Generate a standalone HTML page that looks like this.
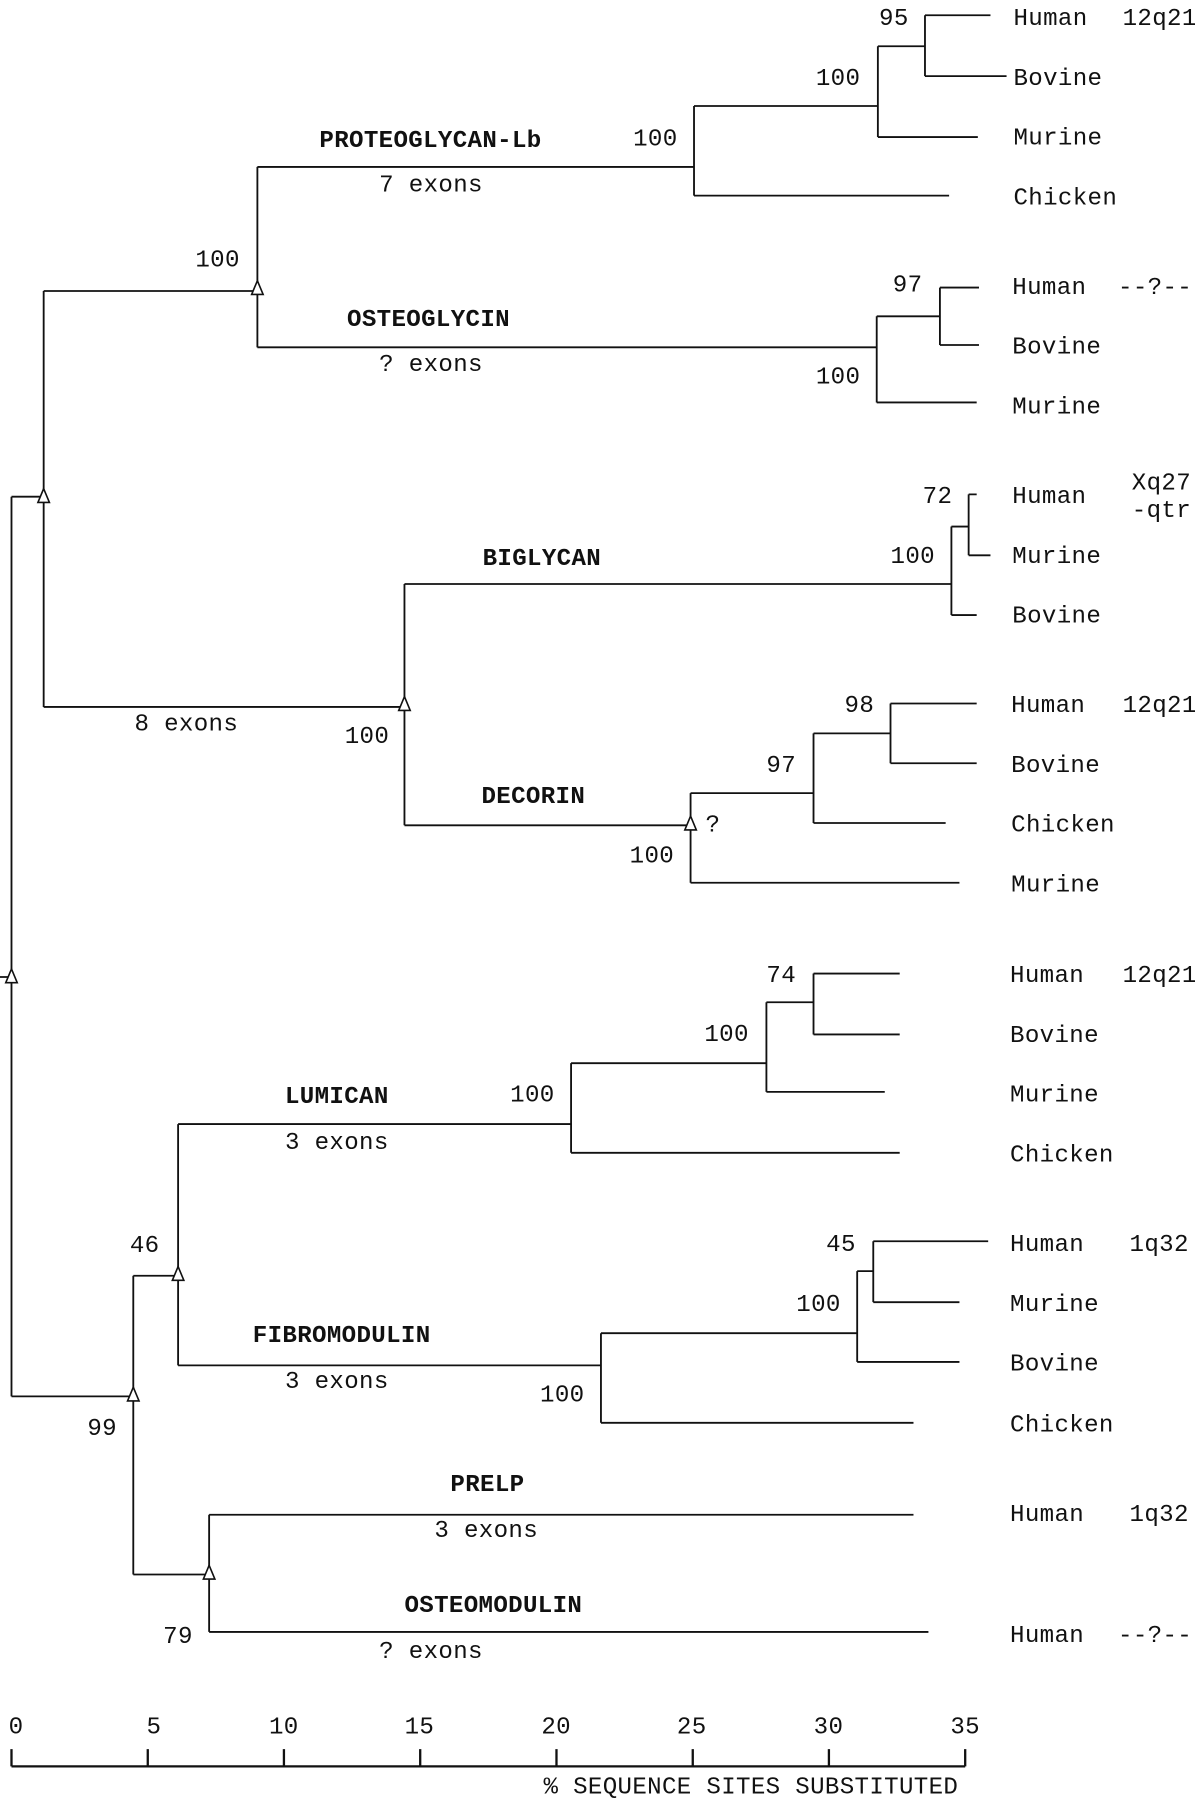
<!DOCTYPE html>
<html><head><meta charset="utf-8"><style>
html,body{margin:0;padding:0;background:#fff;}
svg{display:block;}
text{font-family:"Liberation Mono",monospace;font-size:21px;letter-spacing:0.3px;fill:#111;dominant-baseline:middle;}
.b{font-weight:bold;}
</style></head><body>
<svg width="1195" height="1800" viewBox="0 0 1040 1566" xmlns="http://www.w3.org/2000/svg">
<g stroke="#111" stroke-width="1.6" fill="none">
<path d="M10 432V1215M10 432H38M10 1215H116M0 850H10"/>
<path d="M38 253V615M38 253H224M38 615H352"/>
<path d="M224 145V302M224 145H604M224 302H763"/>
<path d="M604 92V170M604 92H764M604 170H826"/>
<path d="M764 40V119M764 40H805M764 119H851"/>
<path d="M805 13V66M805 13H862M805 66H876"/>
<path d="M763 275V350M763 275H818M763 350H850"/>
<path d="M818 250V300M818 250H852M818 300H852"/>
<path d="M352 508V718M352 508H828M352 718H601"/>
<path d="M828 458V535M828 458H843M828 535H850"/>
<path d="M843 430V483M843 430H850M843 483H862"/>
<path d="M601 690V768M601 690H708M601 768H835"/>
<path d="M708 638V716M708 638H775M708 716H823"/>
<path d="M775 612V664M775 612H850M775 664H850"/>
<path d="M116 1110V1370M116 1110H155M116 1370H182"/>
<path d="M155 978V1188M155 978H497M155 1188H523"/>
<path d="M497 925V1003M497 925H667M497 1003H783"/>
<path d="M667 872V950M667 872H708M667 950H770"/>
<path d="M708 847V900M708 847H783M708 900H783"/>
<path d="M523 1160V1238M523 1160H746M523 1238H795"/>
<path d="M746 1106V1185M746 1106H760M746 1185H835"/>
<path d="M760 1080V1133M760 1080H860M760 1133H835"/>
<path d="M182 1318V1420M182 1318H795M182 1420H808"/>
</g>
<g stroke="#111" stroke-width="2" fill="none">
<path d="M10 1537H840M10 1537V1522M128.6 1537V1522M247.1 1537V1522M365.7 1537V1522M484.3 1537V1522M602.9 1537V1522M721.4 1537V1522M840 1537V1522"/>
</g>
<g stroke="#111" stroke-width="1.4" fill="#fff">
<path d="M10 843L15 855H5Z"/><path d="M38 425L43 437H33Z"/><path d="M116 1207L121 1219H111Z"/>
<path d="M224 244L229 256H219Z"/><path d="M352 606L357 618H347Z"/><path d="M601 710L606 722H596Z"/>
<path d="M155 1102L160 1114H150Z"/><path d="M182 1362L187 1374H177Z"/>
</g>
<text x="170" y="226">100</text>
<text x="117" y="630">8 exons</text>
<text class="b" x="278" y="122">PROTEOGLYCAN-Lb</text>
<text x="330" y="161">7 exons</text>
<text x="551" y="121">100</text>
<text x="710" y="68">100</text>
<text x="765" y="16">95</text>
<text x="882" y="16">Human</text><text x="977" y="16">12q21</text>
<text x="882" y="68">Bovine</text>
<text x="882" y="120">Murine</text>
<text x="882" y="172">Chicken</text>
<text class="b" x="302" y="278">OSTEOGLYCIN</text>
<text x="330" y="317">? exons</text>
<text x="710" y="328">100</text>
<text x="777" y="248">97</text>
<text x="881" y="250">Human</text><text x="973" y="250">--?--</text>
<text x="881" y="302">Bovine</text>
<text x="881" y="354">Murine</text>
<text class="b" x="420" y="486">BIGLYCAN</text>
<text x="300" y="641">100</text>
<text x="775" y="484">100</text>
<text x="803" y="432">72</text>
<text x="881" y="432">Human</text><text x="985" y="420">Xq27</text><text x="985" y="444">-qtr</text>
<text x="881" y="484">Murine</text>
<text x="881" y="536">Bovine</text>
<text class="b" x="419" y="693">DECORIN</text>
<text x="614" y="718">?</text>
<text x="548" y="745">100</text>
<text x="667" y="666">97</text>
<text x="735" y="614">98</text>
<text x="880" y="614">Human</text><text x="977" y="614">12q21</text>
<text x="880" y="666">Bovine</text>
<text x="880" y="718">Chicken</text>
<text x="880" y="770">Murine</text>
<text x="113" y="1084">46</text>
<text x="76" y="1243">99</text>
<text class="b" x="248" y="954">LUMICAN</text>
<text x="248" y="994">3 exons</text>
<text x="444" y="953">100</text>
<text x="613" y="900">100</text>
<text x="667" y="849">74</text>
<text x="879" y="849">Human</text><text x="977" y="849">12q21</text>
<text x="879" y="901">Bovine</text>
<text x="879" y="953">Murine</text>
<text x="879" y="1005">Chicken</text>
<text class="b" x="220" y="1162">FIBROMODULIN</text>
<text x="248" y="1202">3 exons</text>
<text x="470" y="1214">100</text>
<text x="693" y="1135">100</text>
<text x="719" y="1083">45</text>
<text x="879" y="1083">Human</text><text x="983" y="1083">1q32</text>
<text x="879" y="1135">Murine</text>
<text x="879" y="1187">Bovine</text>
<text x="879" y="1240">Chicken</text>
<text class="b" x="392" y="1292">PRELP</text>
<text x="378" y="1332">3 exons</text>
<text x="879" y="1318">Human</text><text x="983" y="1318">1q32</text>
<text class="b" x="352" y="1397">OSTEOMODULIN</text>
<text x="330" y="1437">? exons</text>
<text x="142" y="1424">79</text>
<text x="879" y="1423">Human</text><text x="973" y="1423">--?--</text>
<g text-anchor="middle">
<text x="14" y="1503">0</text><text x="134" y="1503">5</text><text x="247" y="1503">10</text>
<text x="365" y="1503">15</text><text x="484" y="1503">20</text><text x="602" y="1503">25</text>
<text x="721" y="1503">30</text><text x="840" y="1503">35</text>
</g>
<text x="473" y="1555">% SEQUENCE SITES SUBSTITUTED</text>
</svg>
</body></html>
